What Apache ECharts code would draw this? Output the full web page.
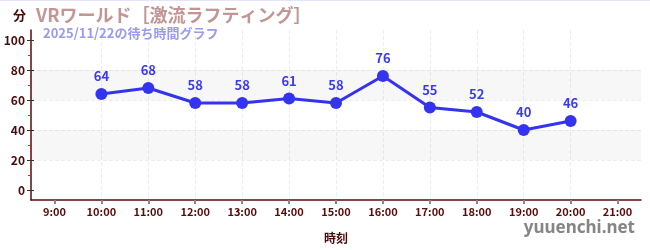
<!DOCTYPE html>
<html><head><meta charset="utf-8">
<script src="https://cdn.jsdelivr.net/npm/echarts@6/dist/echarts.min.js"></script>
<style>html,body{margin:0;padding:0;background:#fff}#c{width:650px;height:250px}#topline{position:absolute;left:0;top:0;width:650px;height:1px;background:#e4e4fa}</style>
</head><body><div id="c"></div><div id="topline"></div>
<script>
var titleText = 'VRワールド［激流ラフティング］';
var subText = '2025/11/22の待ち時間グラフ';
var hours = [9,10,11,12,13,14,15,16,17,18,19,20,21];
var hourLabels = ['9:00','10:00','11:00','12:00','13:00','14:00','15:00','16:00','17:00','18:00','19:00','20:00','21:00'];
var waits = [null,64,68,58,58,61,58,76,55,52,40,46,null];
var yTicks = [0,20,40,60,80,100];
var yMinorTicks = [10,30,50,70,90];
var bands = [[20,40],[60,80]];

var font = '"Noto Sans CJK JP","Noto Sans",sans-serif';
var chart = echarts.init(document.getElementById('c'));
chart.setOption({
  animation:false,
  textStyle:{fontFamily:font},
  title:[
    {text:titleText,left:31,top:1,textStyle:{fontSize:18,fontWeight:'bold',color:'#c49595',fontFamily:font}},
    {text:subText,left:38,top:22,textStyle:{fontSize:13,fontWeight:'bold',color:'#9a9af0',fontFamily:font}}
  ],
  graphic:[
    {type:'text',left:13,top:9,style:{text:'分',fontSize:13,fontWeight:'bold',fill:'#4a0a0a',fontFamily:font}},
    {type:'text',right:15,top:220,style:{text:'yuuenchi.net',fontSize:17,fontWeight:'bold',fill:'#858585',fontFamily:'"Noto Sans",sans-serif'}}
  ],
  grid:{left:31,right:9,top:30,bottom:50,containLabel:false},
  xAxis:{
    type:'value',min:8.5,max:21.5,
    name:'時刻',nameLocation:'middle',nameGap:32,
    nameTextStyle:{fontSize:12,fontWeight:'bold',color:'#4a0a0a'},
    axisLine:{show:true,onZero:false,lineStyle:{color:'#5a0a0a',width:1.5}},
    axisTick:{show:true,customValues:hours,length:4,lineStyle:{color:'#888',width:2}},
    axisLabel:{customValues:hours,fontSize:11,fontWeight:'bold',color:'#5a0a0a',margin:6,
      formatter:function(v){var i=hours.indexOf(Math.round(v));return i>=0?hourLabels[i]:'';}},
    splitLine:{show:true,showMinLine:false,showMaxLine:false,lineStyle:{color:'#eeeeee',type:'dashed'}}
  },
  yAxis:[{
    type:'value',min:-6.67,max:106.67,position:'left',
    axisLine:{show:true,lineStyle:{color:'#5a0a0a',width:1.5}},
    axisTick:{show:true,customValues:yTicks,length:4,lineStyle:{color:'#333'}},
    axisLabel:{customValues:yTicks,fontSize:12,fontWeight:'bold',color:'#4a0a0a',margin:6},
    splitLine:{show:true,showMinLine:false,showMaxLine:false,lineStyle:{color:'#eeeeee',type:'dashed'}}
  },{
    type:'value',min:-6.67,max:106.67,position:'left',
    axisLine:{show:false},
    axisTick:{show:true,customValues:yMinorTicks,length:3,lineStyle:{color:'#dd2222'}},
    axisLabel:{show:false},
    splitLine:{show:false}
  },{
    type:'value',min:-6.67,max:106.67,position:'left',
    axisLine:{show:false},
    axisTick:{show:true,inside:true,customValues:yTicks,length:3,lineStyle:{color:'#333'}},
    axisLabel:{show:false},
    splitLine:{show:false}
  }],
  series:[{
    type:'line',
    data:hours.map(function(h,i){return [h,waits[i]];}),
    connectNulls:false,
    symbol:'circle',symbolSize:12,
    lineStyle:{color:'#3333f0',width:3},
    itemStyle:{color:'#3333f0'},
    label:{show:true,position:'top',distance:5,fontSize:13,fontWeight:'bold',color:'#3a3af0'},
    markArea:{silent:true,itemStyle:{color:'rgba(0,0,0,0.03)'},
      data:bands.map(function(b){return [{yAxis:b[0]},{yAxis:b[1]}];})}
  }]
});
</script></body></html>
